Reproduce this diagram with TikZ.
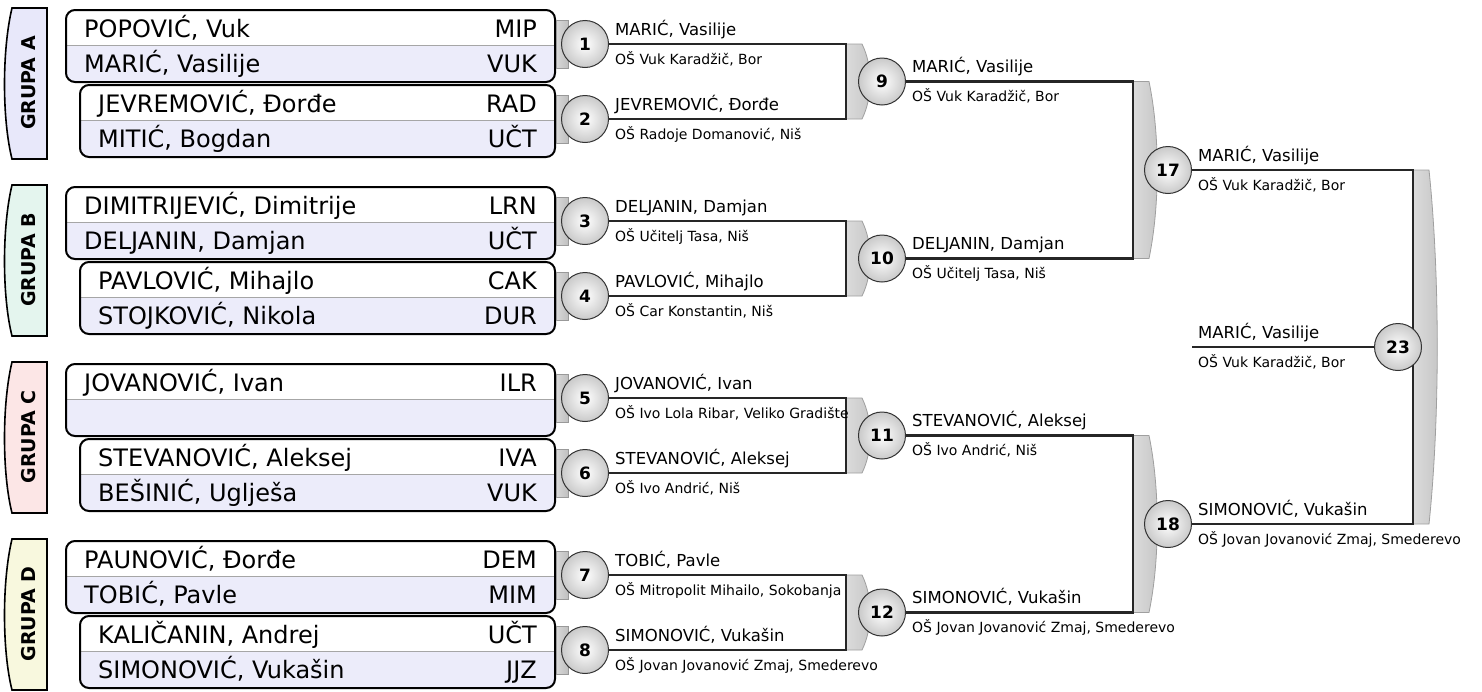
\documentclass[tikz,border=0pt]{standalone}
\usepackage{fontspec}
\setmainfont{DejaVu Sans}
\usetikzlibrary{calc}

\definecolor{rowlav}{RGB}{236,236,250}
\definecolor{tabA}{RGB}{232,232,250}
\definecolor{tabB}{RGB}{228,245,238}
\definecolor{tabC}{RGB}{252,230,230}
\definecolor{tabD}{RGB}{248,248,222}

\tikzset{
  % the group tab on the far left
  tab/.style     = {draw, line width=1.6pt},
  tabtxt/.style  = {rotate=90, inner sep=0,
                    font=\bfseries\fontsize{19}{22}\selectfont},
  % outline of a pair of players
  pbox/.style    = {draw, line width=2pt, rounded corners=9pt},
  sep/.style     = {gray!70, line width=0.8pt},
  pname/.style   = {anchor=base west, inner sep=0,
                    font=\fontsize{24}{28}\selectfont},
  pcode/.style   = {anchor=base east, inner sep=0,
                    font=\fontsize{24}{28}\selectfont},
  % a match number
  ball/.style    = {circle, draw=black!80, line width=1pt,
                    minimum size=47pt, inner sep=0,
                    inner color=white, outer color=gray!42,
                    font=\bfseries\fontsize{17}{20}\selectfont},
  % grey stub behind a first-round ball
  stub/.style    = {left color=gray!30, right color=gray!50,
                    draw=gray!80, line width=0.7pt},
  % grey bracket in front of a later ball
  brack/.style   = {left color=gray!28, right color=gray!45,
                    draw=gray!75, line width=0.8pt},
  wire/.style    = {line width=2.3pt, black!85},
  % winner and school under a line
  wname/.style   = {anchor=base west, inner sep=0,
                    font=\fontsize{16.5}{19}\selectfont},
  wschool/.style = {anchor=base west, inner sep=0,
                    font=\fontsize{14}{17}\selectfont},
}

% #1 top y, #2 fill, #3 letter
\newcommand{\grouptab}[3]{%
  \draw[tab, fill=#2] (47,#1-2) -- (12,#1-2)
    .. controls (2,#1+40) and (2,#1+109) .. (12,#1+149) -- (47,#1+149) -- cycle;
  \node[tabtxt] (g#3) at (29,#1+73) {GRUPA #3};
}
% #1 prefix, #2 left x, #3 top y, #4/#5 upper player, #6/#7 lower player
\newcommand{\pairbox}[7]{%
  \begin{scope}
    \clip[rounded corners=9pt] (#2,#3) rectangle (555,#3+72);
    \fill[rowlav] (#2,#3+35) rectangle (555,#3+72);
  \end{scope}
  \draw[sep] (#2,#3+35) -- (555,#3+35);
  \draw[pbox] (#2,#3) rectangle (555,#3+72);
  \node[pname] (#1t)  at (#2+18,#3+27) {#4};
  \node[pcode] (#1tc) at (537,#3+27)   {#5};
  \node[pname] (#1b)  at (#2+18,#3+62) {#6};
  \node[pcode] (#1bc) at (537,#3+62)   {#7};
}
% #1 x, #2 top y, #3 bottom y
\newcommand{\greybrack}[3]{%
  \draw[brack] (#1,#2) -- (#1+16,#2)
    .. controls (#1+27,{#2+0.3*(#3-#2)}) and (#1+27,{#3-0.3*(#3-#2)}) ..
    (#1+16,#3) -- (#1,#3) -- cycle;
}
% #1 point on the line, #2 prefix, #3 name, #4 school
\newcommand{\winner}[4]{%
  \node[wname]   (#2n) at ([xshift=6pt,yshift=9pt]#1)   {#3};
  \node[wschool] (#2s) at ([xshift=6pt,yshift=-20pt]#1) {#4};
}

\begin{document}
\begin{tikzpicture}[x=1pt, y=-1pt]
  \useasboundingbox (0,0) rectangle (1482,691);
  % groups
  \grouptab{10}{tabA}{A}
  \grouptab{187}{tabB}{B}
  \grouptab{364}{tabC}{C}
  \grouptab{541}{tabD}{D}
  \pairbox{a1}{66}{10}{POPOVIĆ, Vuk}{MIP}{MARIĆ, Vasilije}{VUK}
  \pairbox{a2}{80}{85}{JEVREMOVIĆ, Đorđe}{RAD}{MITIĆ, Bogdan}{UČT}
  \pairbox{b1}{66}{187}{DIMITRIJEVIĆ, Dimitrije}{LRN}{DELJANIN, Damjan}{UČT}
  \pairbox{b2}{80}{262}{PAVLOVIĆ, Mihajlo}{CAK}{STOJKOVIĆ, Nikola}{DUR}
  \pairbox{c1}{66}{364}{JOVANOVIĆ, Ivan}{ILR}{}{}
  \pairbox{c2}{80}{439}{STEVANOVIĆ, Aleksej}{IVA}{BEŠINIĆ, Uglješa}{VUK}
  \pairbox{d1}{66}{541}{PAUNOVIĆ, Đorđe}{DEM}{TOBIĆ, Pavle}{MIM}
  \pairbox{d2}{80}{616}{KALIČANIN, Andrej}{UČT}{SIMONOVIĆ, Vukašin}{JJZ}
  % stubs
  \draw[stub] (556,20) rectangle (568,68);
  \draw[stub] (556,95) rectangle (568,143);
  \draw[stub] (556,197) rectangle (568,245);
  \draw[stub] (556,272) rectangle (568,320);
  \draw[stub] (556,374) rectangle (568,422);
  \draw[stub] (556,449) rectangle (568,497);
  \draw[stub] (556,551) rectangle (568,599);
  \draw[stub] (556,626) rectangle (568,674);
  % brackets
  \greybrack{846}{44}{119}
  \greybrack{846}{221}{296}
  \greybrack{846}{398}{473}
  \greybrack{846}{575}{650}
  \greybrack{1133}{81.5}{258.5}
  \greybrack{1133}{435.5}{612.5}
  \greybrack{1413}{170}{524}
  % balls
  \node[ball] (m1) at (585,44)  {1};
  \node[ball] (m2) at (585,119) {2};
  \node[ball] (m3) at (585,221) {3};
  \node[ball] (m4) at (585,296) {4};
  \node[ball] (m5) at (585,398) {5};
  \node[ball] (m6) at (585,473) {6};
  \node[ball] (m7) at (585,575) {7};
  \node[ball] (m8) at (585,650) {8};
  \node[ball] (m9)  at (882,81.5)  {9};
  \node[ball] (m10) at (882,258.5) {10};
  \node[ball] (m11) at (882,435.5) {11};
  \node[ball] (m12) at (882,612.5) {12};
  \node[ball] (m17) at (1168,170) {17};
  \node[ball] (m18) at (1168,524) {18};
  \coordinate (j9)  at (846,81.5);
  \coordinate (j10) at (846,258.5);
  \coordinate (j11) at (846,435.5);
  \coordinate (j12) at (846,612.5);
  \coordinate (j17) at (1133,170);
  \coordinate (j18) at (1133,524);
  \coordinate (j23) at (1413,347);
  \coordinate (fin) at (1192,347);
  % wires
  \draw[wire] (m1) -- (m1 -| j9) -- (m2 -| j9) -- (m2);
  \draw[wire] (m3) -- (m3 -| j10) -- (m4 -| j10) -- (m4);
  \draw[wire] (m5) -- (m5 -| j11) -- (m6 -| j11) -- (m6);
  \draw[wire] (m7) -- (m7 -| j12) -- (m8 -| j12) -- (m8);
  \draw[wire] (m9) -- (m9 -| j17) -- (m10 -| j17) -- (m10);
  \draw[wire] (m11) -- (m11 -| j18) -- (m12 -| j18) -- (m12);
  \draw[wire] (m17) -- (m17 -| j23) -- (m18 -| j23) -- (m18);
  \node[ball] (m23) at (1398,347) {23};
  \draw[wire] (fin) -- (m23);
  % winners
  \winner{m1.east}{w1}{MARIĆ, Vasilije}{OŠ Vuk Karadžič, Bor}
  \winner{m2.east}{w2}{JEVREMOVIĆ, Đorđe}{OŠ Radoje Domanović, Niš}
  \winner{m3.east}{w3}{DELJANIN, Damjan}{OŠ Učitelj Tasa, Niš}
  \winner{m4.east}{w4}{PAVLOVIĆ, Mihajlo}{OŠ Car Konstantin, Niš}
  \winner{m5.east}{w5}{JOVANOVIĆ, Ivan}{OŠ Ivo Lola Ribar, Veliko Gradište}
  \winner{m6.east}{w6}{STEVANOVIĆ, Aleksej}{OŠ Ivo Andrić, Niš}
  \winner{m7.east}{w7}{TOBIĆ, Pavle}{OŠ Mitropolit Mihailo, Sokobanja}
  \winner{m8.east}{w8}{SIMONOVIĆ, Vukašin}{OŠ Jovan Jovanović Zmaj, Smederevo}
  \winner{m9.east}{w9}{MARIĆ, Vasilije}{OŠ Vuk Karadžič, Bor}
  \winner{m10.east}{w10}{DELJANIN, Damjan}{OŠ Učitelj Tasa, Niš}
  \winner{m11.east}{w11}{STEVANOVIĆ, Aleksej}{OŠ Ivo Andrić, Niš}
  \winner{m12.east}{w12}{SIMONOVIĆ, Vukašin}{OŠ Jovan Jovanović Zmaj, Smederevo}
  \winner{m17.east}{w17}{MARIĆ, Vasilije}{OŠ Vuk Karadžič, Bor}
  \winner{m18.east}{w18}{SIMONOVIĆ, Vukašin}{OŠ Jovan Jovanović Zmaj, Smederevo}
  \winner{fin}{w23}{MARIĆ, Vasilije}{OŠ Vuk Karadžič, Bor}
\end{tikzpicture}
\end{document}
